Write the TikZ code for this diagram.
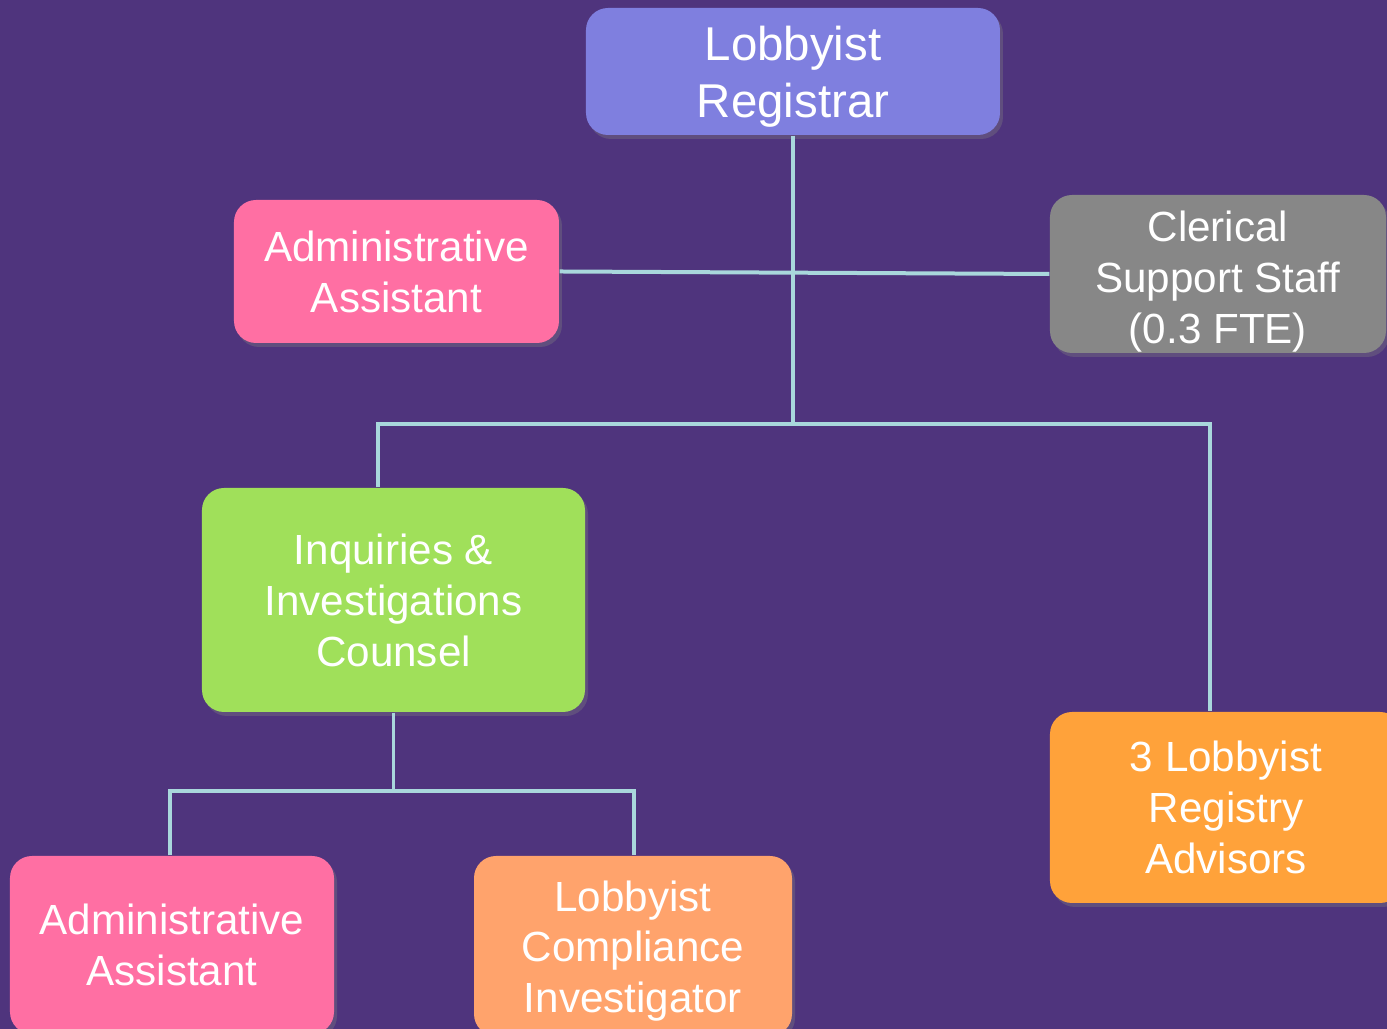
\documentclass[tikz,border=0pt]{standalone}
\usepackage{fontspec}
\setmainfont{Liberation Sans}
\usetikzlibrary{shadows}
\definecolor{bgpurple}{HTML}{4F347D}
\definecolor{regblue}{HTML}{7F7FDF}
\definecolor{asspink}{HTML}{FF6FA3}
\definecolor{clergray}{HTML}{878787}
\definecolor{inqgreen}{HTML}{A0E05A}
\definecolor{advorange}{HTML}{FFA23A}
\definecolor{invorange}{HTML}{FFA36C}
\definecolor{linkblue}{HTML}{A9D7DC}
% taller first line pushes the text block down a little
\newcommand{\lowerby}[1]{\rule{0pt}{#1}}
\tikzset{
  box/.style={rounded corners=0.22cm, text=white, align=center, inner sep=0pt,
    font=\fontsize{12}{14.5}\selectfont, drop shadow={opacity=0.35, shadow xshift=0.03cm, shadow yshift=-0.04cm}},
  link/.style={draw=linkblue, line width=0.04cm}
}
\begin{document}
\begin{tikzpicture}
  \useasboundingbox[fill=bgpurple] (0,0) rectangle (13.87,-10.29);
  \node[box, minimum width=4.14cm, minimum height=1.27cm, font=\fontsize{13.5}{16.2}\selectfont] (reg) at (7.93,-0.715) [fill=regblue] {\lowerby{12.7pt}Lobbyist\\Registrar};
  \node[box, minimum width=3.25cm, minimum height=1.43cm] (adm1) at (3.965,-2.715) [fill=asspink] {Administrative\\Assistant};
  \node[box, minimum width=3.36cm, minimum height=1.58cm] (cler) at (12.18,-2.74) [fill=clergray] {\lowerby{12.8pt}Clerical\\Support Staff\\(0.3 FTE)};
  \node[box, minimum width=3.83cm, minimum height=2.24cm] (inq) at (3.935,-6.0) [fill=inqgreen] {Inquiries \&\\Investigations\\Counsel};
  \node[box, minimum width=3.52cm, minimum height=1.91cm] (adv) at (12.26,-8.075) [fill=advorange] {3 Lobbyist\\Registry\\Advisors};
  \node[box, minimum width=3.24cm, minimum height=1.78cm] (adm2) at (1.72,-9.45) [fill=asspink] {Administrative\\Assistant};
  \node[box, minimum width=3.18cm, minimum height=1.80cm] (inv) at (6.33,-9.46) [fill=invorange] {\lowerby{11.6pt}Lobbyist\\Compliance\\Investigator};
  \coordinate (j1) at (7.93,-4.24);
  \coordinate (j2) at (3.935,-7.91);
  \foreach \source/\dest in {reg.south/j1, inq.south/j2, adm1.east/cler.west}
    \path[link] (\source) -- (\dest);
  \path[link] ([xshift=-0.155cm]inq.north) |- (j1) -| ([xshift=-0.16cm]adv.north);
  \path[link] ([xshift=-0.02cm]adm2.north) |- (j2) -| ([xshift=0.01cm]inv.north);
\end{tikzpicture}
\end{document}
